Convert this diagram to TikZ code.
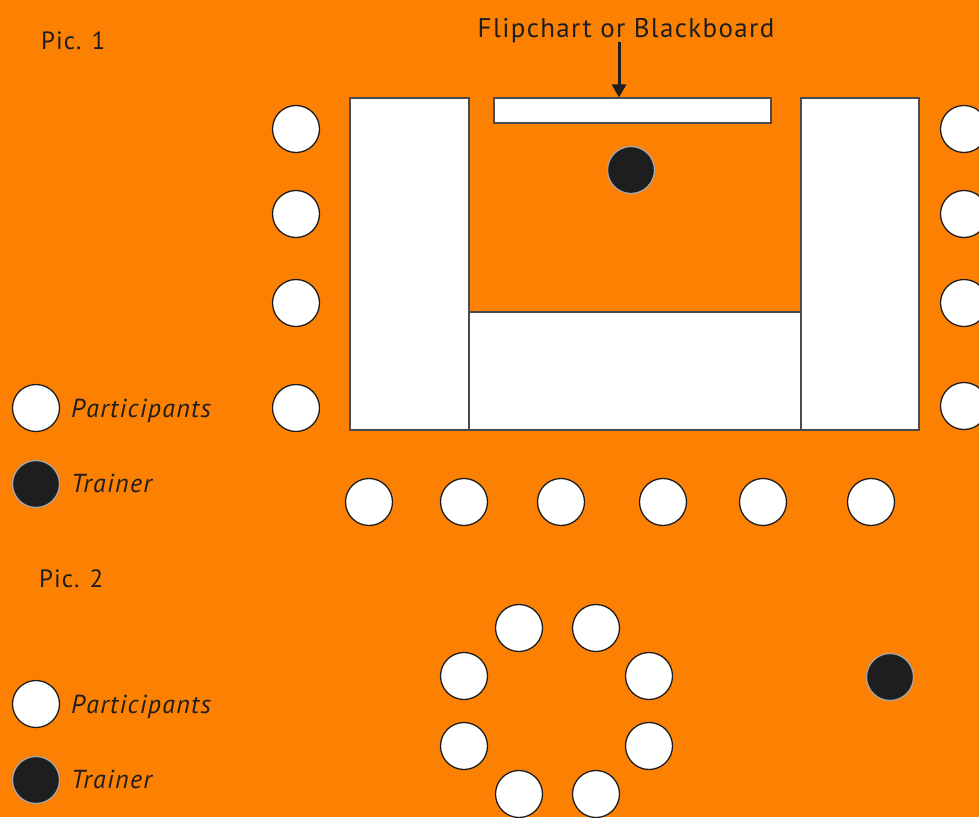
\documentclass[tikz,border=0pt]{standalone}
\usepackage{fontspec}
\setmainfont{PT Sans}
\usetikzlibrary{arrows.meta}
\definecolor{bg}{RGB}{252,129,3}
\definecolor{ink}{RGB}{30,30,30}
\tikzset{
  part/.style={circle, minimum size=47pt, inner sep=0pt, fill=white, draw=ink, line width=1.3pt},
  trainer/.style={circle, minimum size=47pt, inner sep=0pt, fill=ink, draw=black!35, line width=1.3pt},
  tablebox/.style={fill=white, draw=ink!80, line width=1.2pt},
  lbl/.style={font=\fontsize{26}{30}\selectfont\itshape\addfontfeatures{LetterSpace=5}, text=ink, anchor=base west, inner sep=0pt},
  title/.style={font=\fontsize{25}{30}\selectfont\addfontfeatures{LetterSpace=4}, text=ink, anchor=base west, inner sep=0pt}
}
\begin{document}
\begin{tikzpicture}[x=1pt,y=-1pt]
\fill[bg] (0,0) rectangle (979,817);
\useasboundingbox (0,0) rectangle (979,817);
\clip (0,0) rectangle (979,817);
% titles
\node[title] (pic1) at (41,49) {Pic. 1};
\node[title] (pic2) at (39,587) {Pic. 2};
% tables
\draw[tablebox] (350,98) rectangle (469,430);
\draw[tablebox] (801,98) rectangle (919,430);
\draw[tablebox] (469,312) rectangle (801,430);
% board
\node[draw=ink!80, fill=white, line width=1.2pt, minimum width=277pt, minimum height=25pt, inner sep=0pt] (board) at (632.5,110.5) {};
\node[font=\fontsize{27}{30}\selectfont\addfontfeatures{LetterSpace=5}, text=ink, inner sep=0pt, anchor=base] (fb) at (626,37) {Flipchart or Blackboard};
\coordinate (arrtop) at (619,42);
\draw[ink, line width=3pt, -{Triangle[length=13pt,width=14pt]}] (arrtop) -- (arrtop |- board.north);
% trainer pic 1
\node[trainer] (t1) at (631,170) {};
% left column
\node[part] (l1) at (296,129) {};
\node[part] (l2) at (296,214) {};
\node[part] (l3) at (296,303) {};
\node[part] (l4) at (296,408) {};
% right column
\node[part] (r1) at (964,129) {};
\node[part] (r2) at (964,214) {};
\node[part] (r3) at (964,303) {};
\node[part] (r4) at (964,406) {};
% bottom row
\node[part] (b1) at (369,502) {};
\node[part] (b2) at (464,502) {};
\node[part] (b3) at (561,502) {};
\node[part] (b4) at (663,502) {};
\node[part] (b5) at (763,502) {};
\node[part] (b6) at (871,502) {};
% legend pic 1
\node[part] (lp1) at (36,408) {};
\node[lbl] (lpt1) at (71,417) {Participants};
\node[trainer] (lt1) at (36,484) {};
\node[lbl] (ltt1) at (71,492) {Trainer};
% legend pic 2
\node[part] (lp2) at (36,704) {};
\node[lbl] (lpt2) at (71,713) {Participants};
\node[trainer] (lt2) at (36,780) {};
\node[lbl] (ltt2) at (71,788) {Trainer};
% ring pic 2
\node[part] (c1) at (519,628) {};
\node[part] (c2) at (596,628) {};
\node[part] (c3) at (649,676) {};
\node[part] (c4) at (649,746) {};
\node[part] (c5) at (596,794) {};
\node[part] (c6) at (519,794) {};
\node[part] (c7) at (464,746) {};
\node[part] (c8) at (464,676) {};
% trainer pic 2
\node[trainer] (t2) at (890,677) {};
\end{tikzpicture}
\end{document}
